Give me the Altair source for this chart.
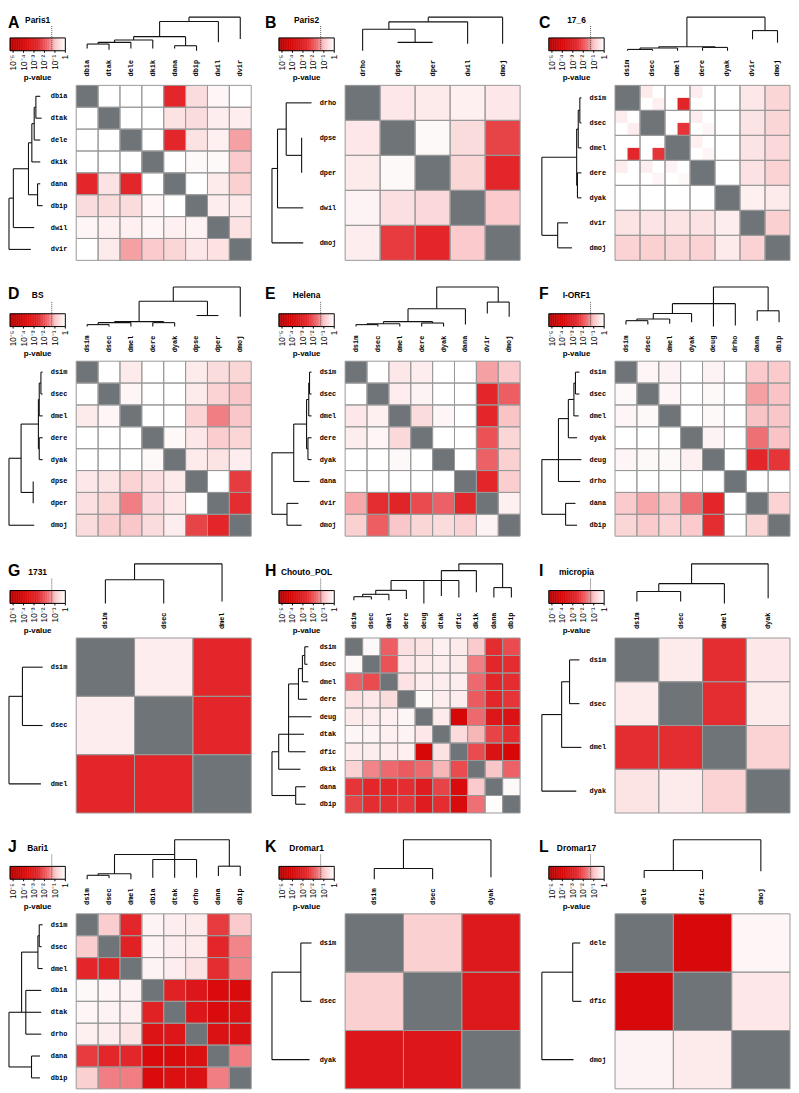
import altair as alt
import pandas as pd

# ---------------- data ----------------
TITLES = ["Paris1", "Paris2", "17_6", "BS", "Helena", "I-ORF1",
          "1731", "Chouto_POL", "micropia", "Bari1", "Dromar1", "Dromar17"]
LETTERS = list("ABCDEFGHIJKL")

A_labels = ["dbia", "dtak", "dele", "dkik", "dana", "dbip", "dwil", "dvir"]
A_logp = [
    [None, 0, 0, 0, -2.6, -0.6, -0.15, 0],
    [0, None, 0, 0, -0.5, -0.6, -0.3, -0.3],
    [0, 0, None, 0, -2.6, -0.5, -0.25, -1.25],
    [0, 0, 0, None, 0, -0.1, -0.1, -0.9],
    [-2.6, -0.5, -2.6, 0, None, 0, -0.35, -0.8],
    [-0.6, -0.6, -0.6, -0.15, 0, None, -0.3, -0.35],
    [-0.15, -0.25, -0.25, -0.15, -0.25, -0.2, None, -0.5],
    [0, -0.35, -1.25, -0.9, -0.7, -0.4, -0.5, None]]
A_tree = [0, [[0.13, [[0.58, [[0.68, [[0.75, [[0.80, [("dbia", 0.93), ("dtak", 0.97)]], ("dele", 0.93)]],
                                        ("dkik", 0.93)]],
                               [0.85, [("dana", 0.93), ("dbip", 1.0)]]]],
                      ("dwil", 0.75)]],
              ("dvir", 0.65)]]

B_labels = ["drho", "dpse", "dper", "dwil", "dmoj"]
B_logp = [
    [None, -0.4, -0.35, -0.25, -0.4],
    [-0.4, None, -0.1, -0.6, -2.2],
    [-0.35, -0.1, None, -0.7, -2.6],
    [-0.2, -0.55, -0.65, None, -0.9],
    [-0.3, -2.3, -2.6, -0.9, None]]
B_tree = [0, [[0.14, [[0.36, [("drho", 1.0), [0.75, [("dpse", 0.75), ("dper", 0.75)]]]], ("dwil", 0.79)]],
              ("dmoj", 0.79)]]

C_labels = ["dsim", "dsec", "dmel", "dere", "dyak", "dvir", "dmoj"]
C_logp = [
    [None, 0, 0, 0, 0, -0.4, -0.7],
    [0, None, 0, 0, 0, -0.45, -0.7],
    [0, 0, None, 0, 0, -0.45, -0.65],
    [0, 0, 0, None, 0, -0.5, -0.75],
    [0, 0, 0, 0, None, -0.25, -0.35],
    [-0.45, -0.45, -0.45, -0.5, -0.3, None, -0.8],
    [-0.75, -0.8, -0.7, -0.75, -0.35, -0.75, None]]
# (row, col, sub-row, sub-col, value) for the split cells of panel C
C_sub = [
    (0, 1, 0, 0, -0.35), (0, 1, 1, 1, -0.25), (0, 2, 1, 1, -2.7), (0, 3, 0, 0, -0.3),
    (1, 0, 0, 0, -0.3), (1, 0, 1, 1, -0.3), (1, 2, 1, 1, -2.4), (1, 3, 0, 0, -0.3), (1, 3, 1, 1, -0.15),
    (2, 0, 1, 1, -2.6), (2, 1, 1, 1, -2.4), (2, 3, 0, 0, -0.25), (2, 3, 1, 1, -0.15),
    (3, 0, 0, 0, -0.3), (3, 1, 0, 0, -0.3), (3, 1, 1, 1, -0.15), (3, 2, 0, 0, -0.2), (3, 2, 1, 1, -0.1)]
C_tree = [0, [[0.88, [[0.92, [[0.96, [("dsim", 1.0), ("dsec", 1.0)]], ("dmel", 1.0)]],
                      [0.90, [("dere", 1.0), ("dyak", 1.0)]]]],
              [0.40, [("dvir", 0.66), ("dmoj", 0.76)]]]]

D_labels = ["dsim", "dsec", "dmel", "dere", "dyak", "dpse", "dper", "dmoj"]
D_logp = [
    [None, 0, -0.35, 0, 0, -0.35, -0.6, -0.7],
    [0, None, -0.15, 0, 0, -0.35, -0.75, -0.95],
    [-0.35, -0.15, None, 0, 0, -0.75, -1.5, -0.95],
    [0, 0, 0, None, -0.1, -0.4, -0.85, -0.7],
    [0, 0, 0, -0.1, None, -0.35, -0.45, -0.3],
    [-0.4, -0.45, -0.75, -0.55, -0.35, None, 0, -2.3],
    [-0.55, -0.7, -1.5, -0.65, -0.4, 0, None, -2.5],
    [-0.6, -0.85, -0.95, -0.6, -0.3, -2.2, -2.6, None]]
D_tree = [0, [[0.36, [[0.875, [[0.90, [[0.95, [("dsim", 1.0), ("dsec", 1.0)]], ("dmel", 1.0)]],
                               [0.90, [("dere", 1.0), ("dyak", 1.0)]]]],
                      [0.72, [("dpse", 0.72), ("dper", 0.72)]]]],
              ("dmoj", 0.75)]]

E_labels = ["dsim", "dsec", "dmel", "dere", "dyak", "dana", "dvir", "dmoj"]
E_logp = [
    [None, 0, -0.4, -0.3, 0, 0, -1.25, -0.9],
    [0, None, -0.3, -0.2, 0, 0, -2.6, -1.85],
    [-0.4, -0.25, None, -0.6, -0.15, 0, -2.6, -1.0],
    [-0.3, -0.15, -0.65, None, 0, 0, -2.0, -0.7],
    [0, 0, -0.1, 0, None, 0, -1.8, -0.8],
    [0, 0, 0, 0, 0, None, -2.6, -0.85],
    [-1.2, -2.5, -2.7, -2.1, -1.8, -2.6, None, -0.25],
    [-0.8, -1.85, -0.95, -0.7, -0.6, -0.75, -0.2, None]]
E_tree = [0, [[0.55, [[0.875, [[0.93, [[0.95, [("dsim", 1.0), ("dsec", 1.0)]], ("dmel", 1.0)]],
                               [0.91, [("dere", 1.0), ("dyak", 1.0)]]]],
                      ("dana", 0.95)]],
              [0.38, [("dvir", 0.67), ("dmoj", 0.75)]]]]

F_labels = ["dsim", "dsec", "dmel", "dyak", "deug", "drho", "dana", "dbip"]
F_logp = [
    [None, -0.15, -0.2, 0, -0.2, 0, -0.9, -0.9],
    [-0.1, None, -0.15, 0, -0.1, 0, -1.25, -1.0],
    [-0.15, -0.1, None, 0, -0.1, 0, -1.0, -0.95],
    [0, 0, 0, None, -0.2, 0, -1.6, -1.0],
    [-0.15, -0.1, -0.1, -0.25, None, 0, -2.6, -2.4],
    [0, 0, 0, 0, 0, None, 0, 0],
    [-0.9, -1.2, -1.0, -1.6, -2.6, 0, None, -0.75],
    [-0.7, -0.9, -0.75, -0.9, -2.5, 0, -0.7, None]]
F_tree = [0, [[0.42, [[0.67, [[0.81, [[0.85, [("dsim", 0.95), ("dsec", 0.95)]], ("dmel", 0.93)]],
                              ("dyak", 0.89)]],
                      ("deug", 1.0), ("drho", 0.97)], 1],
              [0.60, [("dana", 0.85), ("dbip", 0.89)]]]]

G_labels = ["dsim", "dsec", "dmel"]
G_logp = [
    [None, -0.3, -2.6],
    [-0.3, None, -2.6],
    [-2.6, -2.6, None]]
G_tree = [0, [[0.40, [("dsim", 1.0), ("dsec", 1.0)]], ("dmel", 0.95)]]

H_labels = ["dsim", "dsec", "dmel", "dere", "deug", "dtak", "dfic", "dkik", "dana", "dbip"]
H_logp = [
    [None, -0.1, -1.85, -0.55, -0.45, -0.25, -0.35, -0.9, -2.5, -2.1],
    [-0.1, None, -2.0, -0.4, -0.35, -0.3, -0.35, -1.5, -2.6, -2.5],
    [-1.8, -2.1, None, -0.5, -0.3, -0.3, -0.3, -1.7, -2.6, -2.5],
    [-0.5, -0.4, -0.6, None, -0.1, -0.3, -0.3, -1.9, -2.6, -2.4],
    [-0.35, -0.3, -0.25, -0.15, None, -0.35, -4.0, -1.7, -3.3, -3.5],
    [-0.15, -0.2, -0.25, -0.2, -0.4, None, -0.6, -1.1, -2.2, -2.5],
    [-0.3, -0.3, -0.3, -0.25, -4.0, -0.5, None, -2.1, -3.5, -4.0],
    [-0.75, -1.45, -1.7, -1.9, -1.7, -1.1, -2.1, None, -0.95, -1.8],
    [-2.4, -2.6, -2.6, -2.5, -3.0, -2.2, -3.8, -0.9, None, -0.1],
    [-2.2, -2.5, -2.5, -2.4, -3.0, -2.5, -3.8, -1.6, -0.05, None]]
H_tree = [0, [[0.17, [[0.42, [[0.67, [[0.77, [[0.83, [("dsim", 0.92), ("dsec", 0.90)]], ("dmel", 0.92)]],
                                      ("dere", 0.89)]],
                              ("deug", 1.0), ("dtak", 0.81), ("dfic", 0.85)], 2],
                      ("dkik", 0.72)]],
              [0.60, [("dana", 0.85), ("dbip", 0.85)]]]]

I_labels = ["dsim", "dsec", "dmel", "dyak"]
I_logp = [
    [None, -0.35, -2.5, -0.4],
    [-0.35, None, -2.5, -0.35],
    [-2.5, -2.5, None, -0.75],
    [-0.45, -0.35, -0.75, None]]
I_tree = [0, [[0.50, [[0.70, [("dsim", 0.95), ("dsec", 0.95)]], ("dmel", 1.0)]], ("dyak", 0.87)]]

J_labels = ["dsim", "dsec", "dmel", "dbia", "dtak", "drho", "dana", "dbip"]
J_logp = [
    [None, -0.85, -2.6, -0.2, -0.3, -0.35, -2.3, -0.9],
    [-0.85, None, -2.8, -0.2, -0.3, -0.35, -2.6, -1.45],
    [-2.6, -2.8, None, -0.2, -0.3, -0.5, -2.5, -1.45],
    [-0.1, -0.15, -0.2, None, -2.8, -3.3, -3.8, -3.8],
    [-0.15, -0.2, -0.25, -2.8, None, -3.3, -3.8, -3.5],
    [-0.25, -0.3, -0.45, -3.4, -3.3, None, -3.5, -3.5],
    [-2.3, -2.6, -2.6, -3.8, -3.8, -3.6, None, -1.5],
    [-0.8, -1.5, -1.5, -3.8, -3.6, -3.5, -1.5, None]]
J_tree = [0, [[0.375, [[0.86, [[0.90, [("dsim", 1.0), ("dsec", 0.97)]], ("dmel", 1.0)]],
                       [0.50, [("dbia", 0.96), ("dtak", 0.96), ("drho", 0.96)]]], 1],
              [0.67, [("dana", 0.92), ("dbip", 0.92)]]]]

K_labels = ["dsim", "dsec", "dyak"]
K_logp = [
    [None, -0.8, -3.2],
    [-0.8, None, -3.2],
    [-3.3, -3.3, None]]
K_tree = [0, [[0.73, [("dsim", 1.0), ("dsec", 1.0)]], ("dyak", 0.95)]]

L_labels = ["dele", "dfic", "dmoj"]
L_logp = [
    [None, -3.9, -0.15],
    [-3.9, None, -0.4],
    [-0.2, -0.35, None]]
L_tree = [0, [[0.78, [("dele", 0.97), ("dfic", 1.0)]], ("dmoj", 0.80)]]

LABELS = [A_labels, B_labels, C_labels, D_labels, E_labels, F_labels,
          G_labels, H_labels, I_labels, J_labels, K_labels, L_labels]
LOGP = [A_logp, B_logp, C_logp, D_logp, E_logp, F_logp,
        G_logp, H_logp, I_logp, J_logp, K_logp, L_logp]
TREES = [A_tree, B_tree, C_tree, D_tree, E_tree, F_tree,
         G_tree, H_tree, I_tree, J_tree, K_tree, L_tree]
SUBCELLS = {2: C_sub}

TICK_VALUES = [-5, -4, -3, -2, -1, 0]
TICK_LABELS = ["10⁻⁵", "10⁻⁴", "10⁻³", "10⁻²", "10⁻¹", "1"]
SIGNIF = -1.301            # log10(0.05)
CB_DOMAIN = [-5.3, 0.0]

# ---------------- style / layout ----------------
COLOR_DOMAIN = [-5.3, -4.0, -2.6, -1.6, -1.0, 0.0]
COLOR_RANGE = ["#b50000", "#d70707", "#e2262a", "#ef7074", "#f9c4c6", "#ffffff"]
DIAG = "#6f7478"
GRID = "#999999"
LINE = "#111111"
MONO = "Liberation Mono"
SANS = "Liberation Sans"

COL_X = [8, 265, 530]
COL_W = [257, 265, 269]
ROW_Y = [8, 270, 540, 810]
ROW_H = [262, 270, 270, 283]
HEAT_X = [77, 349, 622]
HEAT_Y = [78, 357, 637, 916]
HEAT = 177
LETTER_X = [2, 268, 545]


def tree_segments(tree, pos_of):
    segs = []

    def rec(node):
        if isinstance(node, tuple):
            name, d = node
            return pos_of[name], d
        depth, children = node[0], node[1]
        anchor = node[2] if len(node) > 2 else None
        cs = [rec(c) for c in children]
        ps = [p for p, _ in cs]
        for p, d in cs:
            segs.append(dict(p1=p, p2=p, d1=depth, d2=d))
        segs.append(dict(p1=min(ps), p2=max(ps), d1=depth, d2=depth))
        pos = ps[anchor] if anchor is not None else (ps[0] + ps[-1]) / 2
        return pos, depth

    rec(tree)
    return pd.DataFrame(segs)


def mapped(d0, d1, px0, px1, size, vertical=False):
    """Linear scale on the default [0, size] range whose domain puts d0 at px0 and d1 at px1."""
    unit = (px1 - px0) / (d1 - d0)
    lo = d0 - px0 / unit
    hi = lo + size / unit
    if vertical:
        return alt.Scale(domain=[lo, hi], nice=False, zero=False, reverse=True)
    return alt.Scale(domain=[lo, hi], nice=False, zero=False)


def make_panel(k, col, row):
    labels, M, tree = LABELS[k], LOGP[k], TREES[k]
    n = len(labels)
    W, H = COL_W[col], ROW_H[row]
    ox, oy = COL_X[col], ROW_Y[row]
    hx, hy = HEAT_X[col] - ox, HEAT_Y[row] - oy
    sx = mapped(0, n, hx, hx + HEAT, W)
    sy = mapped(0, n, hy, hy + HEAT, H, vertical=True)
    cscale = alt.Scale(domain=COLOR_DOMAIN, range=COLOR_RANGE, interpolate="rgb", clamp=True)
    top_depth = mapped(0, 1, max(hy - 75, 1), hy - 35, H, vertical=True)
    left_depth = mapped(0, 1, max(hx - 74, 1), hx - 34, W)
    cb = mapped(CB_DOMAIN[0], CB_DOMAIN[1], hx - 67, hx - 11, W)
    cb_top, cb_bot = hy - 48, hy - 35

    cells, diag, grid = [], [], []
    for r in range(n):
        for c in range(n):
            rec = dict(c0=c, c1=c + 1, r0=r, r1=r + 1)
            grid.append(rec)
            if M[r][c] is None:
                diag.append(rec)
            else:
                cells.append(dict(rec, v=M[r][c]))

    def cellenc(ch):
        return ch.encode(x=alt.X("c0:Q", scale=sx, axis=None), x2="c1",
                         y=alt.Y("r0:Q", scale=sy, axis=None), y2="r1")

    layers = []
    layers.append(cellenc(alt.Chart(pd.DataFrame(cells)).mark_rect(strokeWidth=0))
                  .encode(color=alt.Color("v:Q", scale=cscale, legend=None)))
    layers.append(cellenc(alt.Chart(pd.DataFrame(diag)).mark_rect(color=DIAG, strokeWidth=0)))
    if k in SUBCELLS:
        sub = [dict(c0=c + qc * 0.5, c1=c + qc * 0.5 + 0.5, r0=r + qr * 0.5, r1=r + qr * 0.5 + 0.5, v=v)
               for (r, c, qr, qc, v) in SUBCELLS[k]]
        layers.append(cellenc(alt.Chart(pd.DataFrame(sub)).mark_rect(strokeWidth=0))
                      .encode(color=alt.Color("v:Q", scale=cscale, legend=None)))
    layers.append(cellenc(alt.Chart(pd.DataFrame(grid)).mark_rect(
        fillOpacity=0, stroke=GRID, strokeWidth=1)))

    pos_of = {name: i + 0.5 for i, name in enumerate(labels)}
    segs = tree_segments(tree, pos_of)
    layers.append(alt.Chart(segs).mark_rule(color=LINE, strokeWidth=1.1).encode(
        x=alt.X("p1:Q", scale=sx, axis=None), x2="p2",
        y=alt.Y("d1:Q", scale=top_depth, axis=None), y2="d2"))
    layers.append(alt.Chart(segs).mark_rule(color=LINE, strokeWidth=1.1).encode(
        x=alt.X("d1:Q", scale=left_depth, axis=None), x2="d2",
        y=alt.Y("p1:Q", scale=sy, axis=None), y2="p2"))

    lab = pd.DataFrame({"pos": [i + 0.5 for i in range(n)], "label": labels})
    layers.append(alt.Chart(lab).mark_text(font=MONO, fontSize=7, fontWeight="bold", angle=270,
                                           align="left", baseline="middle", color="#000").encode(
        x=alt.X("pos:Q", scale=sx, axis=None), y=alt.value(hy - 9), text="label:N"))
    layers.append(alt.Chart(lab).mark_text(font=MONO, fontSize=7, fontWeight="bold", align="right",
                                           baseline="middle", color="#000").encode(
        x=alt.value(hx - 9), y=alt.Y("pos:Q", scale=sy, axis=None), text="label:N"))

    # colour bar
    nsl = 80
    step = (CB_DOMAIN[1] - CB_DOMAIN[0]) / nsl
    sl = pd.DataFrame([dict(a=CB_DOMAIN[0] + i * step,
                            b=min(CB_DOMAIN[0] + (i + 1.6) * step, CB_DOMAIN[1]),
                            m=CB_DOMAIN[0] + (i + 0.5) * step) for i in range(nsl)])
    layers.append(alt.Chart(sl).mark_rect(strokeWidth=0).encode(
        x=alt.X("a:Q", scale=cb, axis=None), x2="b",
        y=alt.value(cb_top), y2=alt.value(cb_bot),
        color=alt.Color("m:Q", scale=cscale, legend=None)))
    layers.append(alt.Chart(pd.DataFrame({"a": [CB_DOMAIN[0]], "b": [CB_DOMAIN[1]]})).mark_rect(
        fillOpacity=0, stroke="#000", strokeWidth=1).encode(
        x=alt.X("a:Q", scale=cb, axis=None), x2="b", y=alt.value(cb_top), y2=alt.value(cb_bot)))
    layers.append(alt.Chart(pd.DataFrame({"v": [SIGNIF]})).mark_rule(
        color="#333", strokeWidth=0.8, strokeDash=[1, 1]).encode(
        x=alt.X("v:Q", scale=cb, axis=None), y=alt.value(hy - 60), y2=alt.value(cb_bot)))
    tk = pd.DataFrame({"v": TICK_VALUES, "t": TICK_LABELS})
    layers.append(alt.Chart(tk).mark_rule(color="#000", strokeWidth=1).encode(
        x=alt.X("v:Q", scale=cb, axis=None), y=alt.value(cb_bot), y2=alt.value(cb_bot + 2)))
    layers.append(alt.Chart(tk).mark_text(font=SANS, fontSize=8.5, angle=270, align="right",
                                          baseline="middle", color="#000").encode(
        x=alt.X("v:Q", scale=cb, axis=None), y=alt.value(hy - 31), text="t:N"))
    layers.append(alt.Chart(pd.DataFrame({"t": ["p-value"]})).mark_text(
        font=SANS, fontSize=8, fontWeight="bold", align="center", baseline="alphabetic",
        color="#000").encode(
        x=alt.value(hx - 39), y=alt.value(hy - 5), text="t:N"))

    # panel letter and title
    layers.append(alt.Chart(pd.DataFrame({"t": [LETTERS[k]]})).mark_text(
        font=SANS, fontSize=16, fontWeight="bold", align="left", baseline="alphabetic",
        color="#000").encode(
        x=alt.value(max(LETTER_X[col] - ox, 0)), y=alt.value(max(hy - 63, 11.5)), text="t:N"))
    layers.append(alt.Chart(pd.DataFrame({"t": [TITLES[k]]})).mark_text(
        font=SANS, fontSize=8.5, fontWeight="bold", align="center", baseline="alphabetic",
        color="#000").encode(
        x=alt.value(hx - 39), y=alt.value(max(hy - 64, 7)), text="t:N"))

    return alt.layer(*layers).resolve_scale(x="independent", y="independent").properties(
        width=W, height=H)


panels = [make_panel(r * 3 + c, c, r) for r in range(4) for c in range(3)]

chart = alt.concat(*panels, columns=3, spacing=0, bounds="flush", align="each",
                   padding=0, background="#ffffff").configure_view(strokeWidth=0)

chart.save("out.html", embed_options={"renderer": "svg", "actions": False})
